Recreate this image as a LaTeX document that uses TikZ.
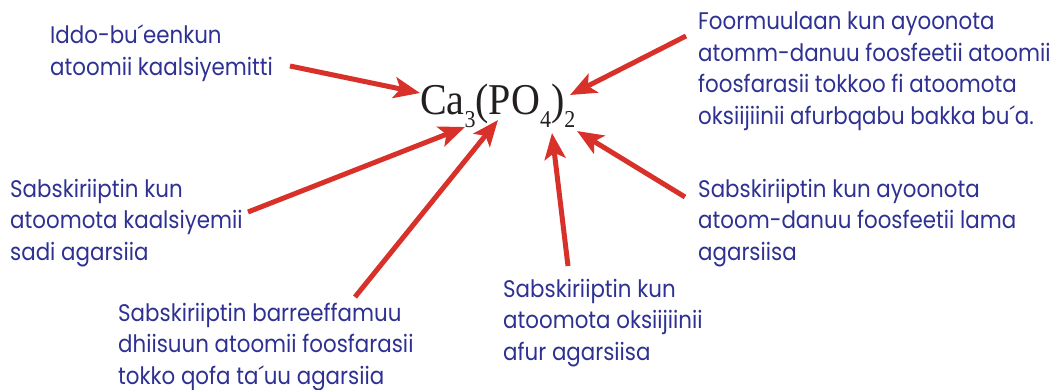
\documentclass[tikz,border=0pt]{standalone}
\usepackage{fontspec}
\setmainfont{Poppins}[FakeStretch=0.89]
\newfontfamily\tms{Liberation Serif}
\usetikzlibrary{arrows.meta}
\definecolor{txtblue}{HTML}{2E3192}
\definecolor{arrred}{HTML}{D7312A}
\definecolor{formgray}{HTML}{231F20}
\tikzset{
  lbl/.style={anchor=base west, inner sep=0pt, align=left, text=txtblue,
    font=\fontsize{24}{31.5}\selectfont},
  ptr/.style={draw=arrred, line width=5pt,
    -{Stealth[length=26pt,width=21pt,inset=6pt]}},
}
\newcommand{\sbs}[1]{\raisebox{-12pt}{\fontsize{22}{22}\selectfont #1}}
\begin{document}
\begin{tikzpicture}[x=1pt,y=-1pt]
\useasboundingbox (0,0) rectangle (1056,389);
\node[anchor=base west, inner sep=0pt, text=formgray] (f) at (420,114)
  {\scalebox{1}[1.1]{\tms\fontsize{40}{40}\selectfont Ca\sbs{3}(PO\sbs{4})\sbs{2}}};

% anchors are at the baseline of each block's last line
\node[lbl] (t1) at (50,75) {Iddo-bu\textasciiacute eenkun\\atoomii kaalsiyemitti};
\node[lbl] (t2) at (698,124) {Foormuulaan kun ayoonota\\atomm-danuu foosfeetii atoomii\\foosfarasii tokkoo fi atoomota\\oksiijiinii afurbqabu bakka bu\textasciiacute a.};
\node[lbl] (t3) at (10,260) {Sabskiriiptin kun\\atoomota kaalsiyemii\\sadi agarsiia};
\node[lbl] (t4) at (118,384) {Sabskiriiptin barreeffamuu\\dhiisuun atoomii foosfarasii\\tokko qofa ta\textasciiacute uu agarsiia};
\node[lbl] (t5) at (503,360) {Sabskiriiptin kun\\atoomota oksiijiinii\\afur agarsiisa};
\node[lbl] (t6) at (698,260) {Sabskiriiptin kun ayoonota\\atoom-danuu foosfeetii lama\\agarsiisa};

\coordinate (s1) at (290,66);  \coordinate (e1) at (420,93);
\coordinate (s2) at (686,36);  \coordinate (e2) at (570,95);
\coordinate (s3) at (248,212); \coordinate (e3) at (465,127);
\coordinate (s4) at (355,297); \coordinate (e4) at (498,120);
\coordinate (s5) at (568,266); \coordinate (e5) at (552,133);
\coordinate (s6) at (685,197); \coordinate (e6) at (577,131);
\draw[ptr] (s1) -- (e1);
\draw[ptr] (s2) -- (e2);
\draw[ptr] (s3) -- (e3);
\draw[ptr] (s4) -- (e4);
\draw[ptr] (s5) -- (e5);
\draw[ptr] (s6) -- (e6);
\end{tikzpicture}
\end{document}
